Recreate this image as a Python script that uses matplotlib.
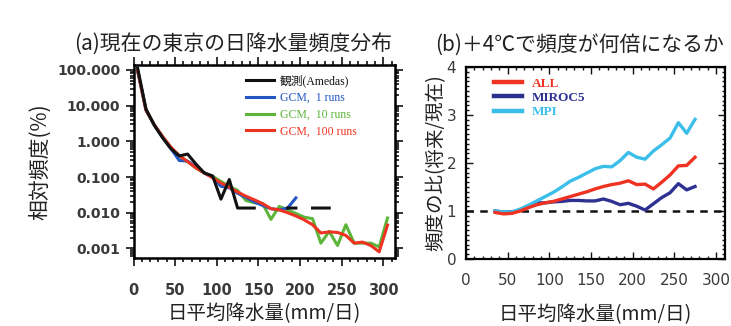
import numpy as np
import matplotlib
matplotlib.use("Agg")
import matplotlib.pyplot as plt
from matplotlib.ticker import MultipleLocator, LogLocator, NullFormatter

plt.rcParams['font.family'] = ['Noto Sans CJK JP', 'DejaVu Sans']

# ---- data: (a) frequency distribution (%)
x_a = [5, 15, 25, 35, 45, 55, 65, 75, 85, 95, 105, 115, 125, 135, 145, 155,
       165, 175, 185, 195, 205, 215, 225, 235, 245, 255, 265, 275, 285, 295, 305]
obs = [112, 8.0, 2.8, 1.25, 0.62, 0.39, 0.44, 0.23, 0.13, 0.107, 0.024, 0.085,
       0.0135, 0.0135, 0.0135, np.nan, np.nan, np.nan, 0.0135, 0.0135, np.nan,
       0.0135, 0.0135, 0.0135, np.nan, np.nan, np.nan, np.nan, np.nan, np.nan, np.nan]
gcm1 = [95, 7.5, 2.9, 1.3, 0.62, 0.29, 0.28, 0.19, 0.13, 0.1, 0.055, 0.05,
        0.035, 0.027, 0.02, 0.016, 0.013, 0.012, 0.0135, 0.026, np.nan,
        np.nan, np.nan, np.nan, np.nan, np.nan, np.nan, np.nan, np.nan, np.nan, np.nan]
gcm10 = [95, 7.5, 2.9, 1.35, 0.68, 0.38, 0.27, 0.18, 0.13, 0.105, 0.075, 0.055,
         0.042, 0.022, 0.019, 0.018, 0.0065, 0.015, 0.012, 0.0095, 0.0075,
         0.0068, 0.0014, 0.003, 0.0012, 0.0046, 0.0014, 0.0014, 0.0014, 0.0011, 0.0071]
gcm100 = [95, 7.5, 2.9, 1.35, 0.68, 0.4, 0.27, 0.18, 0.13, 0.095, 0.068, 0.052,
          0.038, 0.029, 0.023, 0.018, 0.013, 0.012, 0.010, 0.0081, 0.0063,
          0.0046, 0.0027, 0.0029, 0.0028, 0.0023, 0.0014, 0.0015, 0.0012, 0.0008, 0.0045]
labels_a = ['観測(Amedas)', 'GCM,  1 runs', 'GCM,  10 runs', 'GCM,  100 runs']
xticks = [0, 50, 100, 150, 200, 250, 300]
yticks_a = [100, 10, 1, 0.1, 0.01, 0.001]
yticklabels_a = ['100.000', '10.000', '1.000', '0.100', '0.010', '0.001']

# ---- data: (b) ratio future / present
x_b = [35, 45, 55, 65, 75, 85, 95, 105, 115, 125, 135, 145, 155, 165, 175,
       185, 195, 205, 215, 225, 235, 245, 255, 265, 275]
ratio_all = [0.97, 0.94, 0.95, 1.00, 1.07, 1.13, 1.17, 1.20, 1.25, 1.30, 1.35, 1.40,
             1.46, 1.51, 1.55, 1.58, 1.63, 1.55, 1.56, 1.46, 1.60, 1.75, 1.94, 1.95, 2.12]
ratio_miroc5 = [1.00, 0.98, 0.98, 1.02, 1.10, 1.17, 1.17, 1.19, 1.20, 1.22, 1.22, 1.21,
                1.21, 1.25, 1.20, 1.13, 1.16, 1.10, 1.02, 1.15, 1.28, 1.38, 1.57, 1.44, 1.51]
ratio_mpi = [1.00, 0.98, 0.98, 1.04, 1.12, 1.21, 1.30, 1.39, 1.50, 1.62, 1.70, 1.79,
             1.88, 1.93, 1.92, 2.05, 2.22, 2.12, 2.08, 2.25, 2.38, 2.52, 2.84, 2.62, 2.91]
labels_b = ['ALL', 'MIROC5', 'MPI']
yticks_b = [0, 1, 2, 3, 4]

tick_color = '#3a3a3a'
serif = ['Liberation Serif', 'Noto Sans CJK JP']

fig = plt.figure(figsize=(7.31, 3.26), dpi=100)
W, H = 731.0, 326.0

def box(l, t, r, b):
    return [l / W, 1 - b / H, (r - l) / W, (b - t) / H]

# ================= (a)
ax1 = fig.add_axes(box(133.5, 65, 395, 258))
ax1.plot(x_a, gcm10, color='#5cb63a', lw=2.2, zorder=2, label=labels_a[2])
ax1.plot(x_a, gcm100, color='#ee3322', lw=2.2, zorder=3, label=labels_a[3])
ax1.plot(x_a, gcm1, color='#2257c4', lw=2.2, zorder=2.5, label=labels_a[1])
ax1.plot(x_a, obs, color='#111111', lw=2.2, zorder=4, label=labels_a[0])
ax1.set_yscale('log')
ax1.set_xlim(0, 314)
ax1.set_ylim(10 ** -3.27, 10 ** 2.14)
ax1.set_xticks(xticks)
ax1.set_xticklabels([str(t) for t in xticks], fontfamily=['DejaVu Sans'],
                    fontweight='bold', fontsize=10.5)
ax1.xaxis.set_minor_locator(MultipleLocator(10))
ax1.set_yticks(yticks_a)
ax1.set_yticklabels(yticklabels_a, fontfamily=['DejaVu Sans'], fontweight='bold',
                    fontsize=10)
ax1.yaxis.set_minor_locator(LogLocator(base=10, subs=np.arange(2, 10)))
ax1.yaxis.set_minor_formatter(NullFormatter())
ax1.tick_params(which='both', direction='out', top=True, right=True, color='#111111',
                labelcolor=tick_color, width=1.2)
ax1.tick_params(which='major', length=6)
ax1.tick_params(which='minor', length=3)
ax1.tick_params(axis='x', pad=12)
for s in ax1.spines.values():
    s.set_linewidth(1.8)

h, l = ax1.get_legend_handles_labels()
order = [3, 2, 0, 1]
ax1.legend([h[i] for i in order], [l[i] for i in order], loc='upper left',
           bbox_to_anchor=(0.43, 0.95), frameon=False, borderpad=0, borderaxespad=0,
           handlelength=2.4, handletextpad=0.5, labelspacing=0.4,
           labelcolor='linecolor', prop={'family': serif, 'size': 8.5})

ax1.set_title('(a)現在の東京の日降水量頻度分布', fontsize=15, color='#222222',
              x=0.38, y=1.0, pad=10)
ax1.set_ylabel('相対頻度(%)', fontsize=15, color='#222222', labelpad=4)
ax1.set_xlabel('日平均降水量(mm/日)', fontsize=14, color='#222222', labelpad=4)

# ================= (b)
ax2 = fig.add_axes(box(466, 67, 725, 259))
ax2.axhline(1, color='#111111', lw=1.8, ls=(0, (3, 2.5)), zorder=1)
ax2.plot(x_b, ratio_all, color='#ee3322', lw=2.4, zorder=3, label=labels_b[0])
ax2.plot(x_b, ratio_miroc5, color='#2e3192', lw=2.4, zorder=2, label=labels_b[1])
ax2.plot(x_b, ratio_mpi, color='#3bbfea', lw=2.4, zorder=2, label=labels_b[2])
ax2.set_xlim(0, 311)
ax2.set_ylim(0, 4)
ax2.set_xticks(xticks)
ax2.set_xticklabels([str(t) for t in xticks], fontfamily=['DejaVu Sans'], fontsize=11)
ax2.xaxis.set_minor_locator(MultipleLocator(10))
ax2.set_yticks(yticks_b)
ax2.set_yticklabels([str(t) for t in yticks_b], fontfamily=['DejaVu Sans'], fontsize=11)
ax2.yaxis.set_minor_locator(MultipleLocator(0.1))
ax2.tick_params(which='both', direction='in', top=True, right=True, color='#111111',
                labelcolor=tick_color, width=1.0)
ax2.tick_params(which='major', length=5)
ax2.tick_params(which='minor', length=2)
ax2.tick_params(axis='y', pad=7)
ax2.tick_params(axis='x', pad=10)
for s in ax2.spines.values():
    s.set_linewidth(1.6)

leg2 = ax2.legend(loc='upper left', bbox_to_anchor=(0.11, 0.945), frameon=False,
                  borderpad=0, borderaxespad=0, handlelength=2.1, handletextpad=0.7,
                  labelspacing=0.15, labelcolor='linecolor',
                  prop={'family': serif, 'size': 9.5, 'weight': 'bold'})
for ln in leg2.get_lines():
    ln.set_linewidth(3.2)

ax2.set_title('(b)＋4℃で頻度が何倍になるか', fontsize=15, color='#222222',
              x=0.44, y=1.0, pad=12)
ax2.set_ylabel('頻度の比(将来/現在)', fontsize=14, color='#222222', labelpad=0)
ax2.set_xlabel('日平均降水量(mm/日)', fontsize=14, color='#222222', labelpad=12)

fig.savefig('out.png', dpi=100)
